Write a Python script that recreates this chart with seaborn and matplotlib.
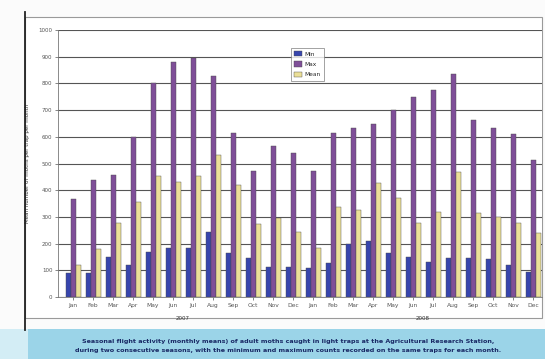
import matplotlib
matplotlib.use("Agg")
import matplotlib.pyplot as plt
from matplotlib.patches import Rectangle
from matplotlib.lines import Line2D
import numpy as np
import pandas as pd
import seaborn as sns

# Monthly values over two consecutive years
months = ["Jan", "Feb", "Mar", "Apr", "May", "Jun", "Jul", "Aug", "Sep", "Oct", "Nov", "Dec"]
years = ["2007", "2008"]
series_names = ["Min", "Max", "Mean"]
min_vals = [90, 90, 150, 120, 169, 183, 185, 244, 165, 146, 112, 112,
            109, 127, 198, 210, 165, 150, 131, 146, 146, 142, 120, 94]
max_vals = [367, 438, 457, 599, 801, 880, 895, 828, 614, 472, 565, 539,
            472, 614, 633, 648, 700, 749, 775, 835, 663, 633, 610, 513]
mean_vals = [120, 178, 279, 355, 452, 429, 455, 532, 418, 275, 295, 242,
             183, 337, 326, 427, 371, 277, 318, 468, 315, 300, 277, 240]
y_ticks = [0, 100, 200, 300, 400, 500, 600, 700, 800, 900, 1000]

periods = [f"{m} {y}" for y in years for m in months]
df = pd.DataFrame({
    "period": periods * 3,
    "series": np.repeat(series_names, len(periods)),
    "value": min_vals + max_vals + mean_vals,
})

W, H = 545, 359
fig = plt.figure(figsize=(W / 100, H / 100), dpi=100)
fig.patch.set_facecolor("#fbfbfb")

def fx(px):
    return px / W

def fy(py):
    return 1 - py / H

# chart frame and page edge
fig.add_artist(Rectangle((fx(25), fy(318)), fx(542) - fx(25), fy(17) - fy(318),
                         transform=fig.transFigure, facecolor="white",
                         edgecolor="#9a9a9a", linewidth=0.8, zorder=0))
fig.add_artist(Line2D([fx(25), fx(25)], [fy(12), fy(330)], transform=fig.transFigure,
                      color="#222222", linewidth=1.3))

# caption band
fig.add_artist(Rectangle((fx(28), 0), 1 - fx(28), fy(329), transform=fig.transFigure,
                         facecolor="#9bd4e8", edgecolor="none", zorder=0))
fig.add_artist(Rectangle((0, 0), fx(28), fy(329), transform=fig.transFigure,
                         facecolor="#d3edf5", edgecolor="none", zorder=0))

ax = fig.add_axes([fx(58), fy(297), fx(542) - fx(58), fy(30) - fy(297)])
sns.set_style("white")
palette = {"Min": "#3745ad", "Max": "#7f4f98", "Mean": "#ebdf98"}
sns.barplot(data=df, x="period", y="value", hue="series", order=periods,
            hue_order=series_names, palette=palette, saturation=1, width=0.75,
            edgecolor="#4a4a4a", linewidth=0.3, ax=ax, zorder=3)

ax.set_xlim(-0.75, 23.45)
ax.set_ylim(0, 1000)
ax.set_yticks(y_ticks)
ax.set_yticklabels([str(v) for v in y_ticks], fontsize=4, color="#333333")
ax.set_xticks(range(len(periods)))
ax.set_xticklabels(months * 2, fontsize=4.3, color="#333333")
ax.tick_params(axis="both", length=2, width=0.5, pad=2, colors="#555555")
ax.grid(axis="y", color="#555555", linewidth=0.8, zorder=0)
ax.set_axisbelow(True)
ax.set_facecolor("white")
for side in ["top", "right"]:
    ax.spines[side].set_visible(False)
for side in ["left", "bottom"]:
    ax.spines[side].set_color("#777777")
    ax.spines[side].set_linewidth(0.6)
ax.set_xlabel("")
ax.set_ylabel("Mean number of moths per trap per month", fontsize=4, color="#333333",
              labelpad=6)

# year labels beneath each block of twelve months
for i, yr in enumerate(years):
    ax.text(5.5 + 12 * i, -0.08, yr, transform=ax.get_xaxis_transform(),
            ha="center", va="center", fontsize=4, color="#333333")

leg = ax.legend(loc="upper left", bbox_to_anchor=(fx(288 - 58) / (fx(542) - fx(58)), 0.945),
                fontsize=4.2, frameon=True, fancybox=False, edgecolor="#777777",
                handlelength=1.3, handleheight=1.0, borderpad=0.6, labelspacing=0.8,
                handletextpad=0.4)
leg.get_frame().set_linewidth(0.6)

caption = ("Seasonal flight activity (monthly means) of adult moths caught in light traps at the Agricultural Research Station,\n"
           "during two consecutive seasons, with the minimum and maximum counts recorded on the same traps for each month.")
fig.text(fx(288), fy(346), caption, ha="center", va="center", fontsize=4.6,
         color="#1a2a66", linespacing=1.8, fontweight="bold")

fig.savefig("out.png", dpi=100)
